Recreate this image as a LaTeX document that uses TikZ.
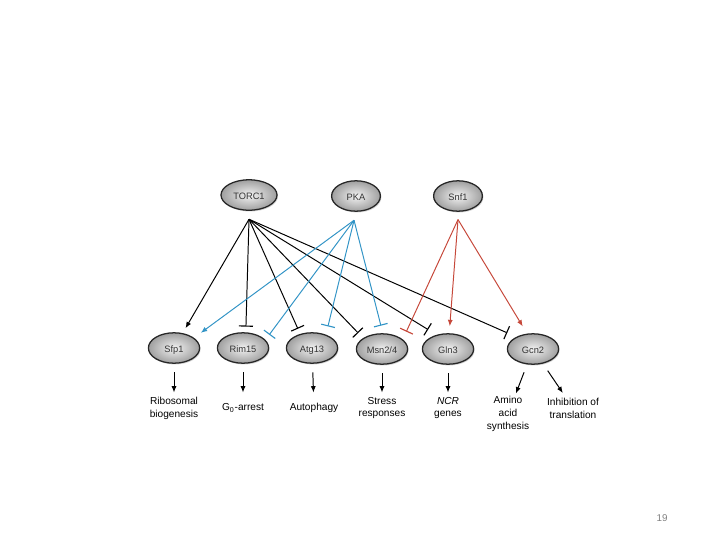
\documentclass[tikz,border=0pt]{standalone}
\usepackage{fontspec}
\setmainfont{Liberation Sans}
\usetikzlibrary{arrows.meta,shapes.geometric,shadows}
\definecolor{pkablue}{RGB}{50,148,198}
\definecolor{snfred}{RGB}{198,72,58}

\begin{document}
\begin{tikzpicture}[x=0.025cm,y=-0.025cm,
  gene/.style={ellipse,draw=black!85,line width=0.9pt,inner color=gray!10,outer color=gray!75,
    minimum width=1.28cm,minimum height=0.76cm,inner sep=0pt,
    text height=1.6ex,text depth=0.3ex,
    font=\fontsize{6.6}{7}\selectfont,text=black!80,
    drop shadow={shadow xshift=0.7pt,shadow yshift=-0.9pt,opacity=0.35}},
  kinase/.style={gene,minimum width=1.22cm},
  outcome/.style={align=center,font=\fontsize{7.2}{9.2}\selectfont,minimum height=0.62cm,inner sep=0pt},
  act/.style={line width=0.7pt,-{Latex[length=4.5pt,width=3.6pt]}},
  inh/.style={line width=0.7pt,-{Bar[width=10pt,line width=0.8pt]}}]
\useasboundingbox (0,0) rectangle (720,540);

% kinases
\node[kinase,minimum width=1.4cm] (torc) at (249,195) {TORC1};
\node[kinase] (pka) at (356,196) {PKA};
\node[kinase] (snf) at (458,196) {Snf1};
\coordinate (torcA) at ([yshift=-6pt]torc.south);
\coordinate (pkaA) at ([xshift=-1.4pt,yshift=-6pt]pka.south);
\coordinate (snfA) at ([yshift=-5.5pt]snf.south);

% targets
\node[gene] (sfp) at (174,348) {Sfp1};
\node[gene] (rim) at (243,348) {Rim15};
\node[gene] (atg) at (312,348) {Atg13};
\node[gene] (msn) at (382,349) {Msn2/4};
\node[gene] (gln) at (448,349) {Gln3};
\node[gene] (gcn) at (533,349) {Gcn2};

% TORC1
\draw[act,shorten >=4pt] (torcA) -- (sfp);
\draw[inh,shorten >=4pt] (torcA) -- (rim.80);
\draw[inh,shorten >=4pt] (torcA) -- (atg.130);
\draw[inh,shorten >=5pt] (torcA) -- (msn.150);
\draw[inh,shorten >=7pt] (torcA) -- (gln.129);
\draw[inh,shorten >=7pt] (torcA) -- (gcn.144);
% PKA
\draw[act,pkablue,shorten >=6pt] (pkaA) -- (sfp.27);
\draw[inh,pkablue,shorten >=4.5pt] (pkaA) -- (rim.20);
\draw[inh,pkablue,shorten >=6pt] (pkaA) -- (atg.44);
\draw[inh,pkablue,shorten >=5.5pt] (pkaA) -- (msn.87);
% Snf1
\draw[inh,snfred,shorten >=6pt] (snfA) -- (msn.25);
\draw[act,snfred,shorten >=5pt] (snfA) -- (gln);
\draw[act,snfred,shorten >=6pt] (snfA) -- (gcn.111);

% outcomes
\node[outcome] (ribo) at (174,408) {Ribosomal\\biogenesis};
\node[outcome] (arrest) at (243,408) {G\textsubscript{0}-arrest};
\node[outcome] (auto) at (314,408) {Autophagy};
\node[outcome] (stress) at (382,408) {Stress\\responses};
\node[outcome] (ncr) at (448,408) {\textit{NCR}\\genes};
\node[outcome] (amino) at (508,414) {Amino\\acid\\synthesis};
\node[outcome] (transl) at (573,408) {Inhibition of\\translation};

\draw[act,shorten <=6pt,shorten >=2pt] (sfp) -- (ribo);
\draw[act,shorten <=6pt,shorten >=2pt] (rim) -- (arrest);
\draw[act,shorten <=6pt,shorten >=2pt] (atg) -- (auto);
\draw[act,shorten <=6pt,shorten >=2pt] (msn) -- (stress);
\draw[act,shorten <=6pt,shorten >=2pt] (gln) -- (ncr);
\draw[act,shorten <=6pt,shorten >=2pt] (gcn) -- (amino);
\draw[act,shorten <=6pt,shorten >=2pt] (gcn) -- (transl);

\node[font=\fontsize{7}{8}\selectfont,text=gray] (pg) at (662,518) {19};
\end{tikzpicture}
\end{document}
